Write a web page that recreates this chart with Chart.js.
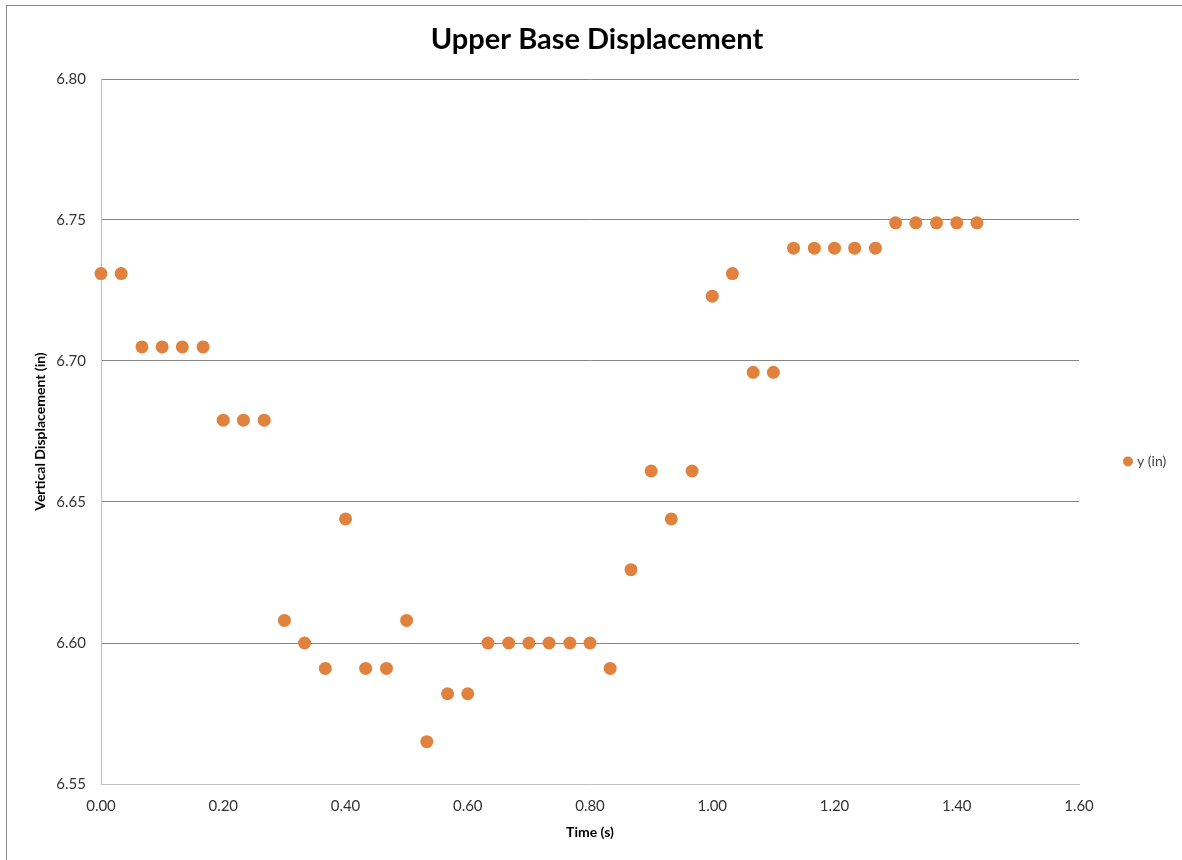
<!DOCTYPE html>
<html>
<head>
<meta charset="utf-8">
<script src="https://cdn.jsdelivr.net/npm/chart.js@4"></script>
<style>
  html, body { margin: 0; padding: 0; background: #fff; overflow: hidden; }
  #wrap { position: relative; width: 1182px; height: 860px; }
  #frame { position: absolute; left: 6px; top: 5px; width: 1200px; height: 900px; border: 1px solid #8a8a8a; box-sizing: border-box; pointer-events: none; }
  canvas { position: absolute; left: 0; top: 0; }
</style>
</head>
<body>
<div id="wrap">
  <div id="frame"></div>
  <canvas id="c" width="1182" height="860"></canvas>
</div>
<script>
const chartTitle = 'Upper Base Displacement';
const xAxisTitle = 'Time (s)';
const yAxisTitle = 'Vertical Displacement (in)';
const seriesName = 'y (in)';

const timeS = [0.000, 0.033, 0.067, 0.100, 0.133, 0.167, 0.200, 0.233, 0.267, 0.300,
               0.333, 0.367, 0.400, 0.433, 0.467, 0.500, 0.533, 0.567, 0.600, 0.633,
               0.667, 0.700, 0.733, 0.767, 0.800, 0.833, 0.867, 0.900, 0.933, 0.967,
               1.000, 1.033, 1.067, 1.100, 1.133, 1.167, 1.200, 1.233, 1.267, 1.300,
               1.333, 1.367, 1.400, 1.433];
const yIn = [6.731, 6.731, 6.705, 6.705, 6.705, 6.705, 6.679, 6.679, 6.679, 6.608,
             6.600, 6.591, 6.644, 6.591, 6.591, 6.608, 6.565, 6.582, 6.582, 6.600,
             6.600, 6.600, 6.600, 6.600, 6.600, 6.591, 6.626, 6.661, 6.644, 6.661,
             6.723, 6.731, 6.696, 6.696, 6.740, 6.740, 6.740, 6.740, 6.740, 6.749,
             6.749, 6.749, 6.749, 6.749];

const xMin = 0, xMax = 1.6, xStep = 0.2;
const yMin = 6.55, yMax = 6.80, yStep = 0.05;

const points = timeS.map((t, i) => ({ x: t, y: yIn[i] }));
const FONT = 'Lato, Calibri, "Open Sans", sans-serif';
const markerColor = '#E0823D';

const legendPlugin = {
  id: 'sideLegend',
  afterDraw(chart) {
    const { ctx, chartArea } = chart;
    const ds = chart.data.datasets[0];
    const cx = chartArea.right + 49;
    const cy = (chartArea.top + chartArea.bottom) / 2 + 30;
    ctx.save();
    ctx.fillStyle = ds.backgroundColor;
    ctx.beginPath();
    ctx.arc(cx, cy, 5, 0, Math.PI * 2);
    ctx.fill();
    ctx.fillStyle = '#404040';
    ctx.font = '14px ' + FONT;
    ctx.textAlign = 'left';
    ctx.textBaseline = 'middle';
    ctx.fillText(ds.label, cx + 9, cy);
    ctx.restore();
  }
};

new Chart(document.getElementById('c'), {
  type: 'scatter',
  data: {
    datasets: [{
      label: seriesName,
      data: points,
      backgroundColor: markerColor,
      borderColor: markerColor,
      borderWidth: 0,
      pointRadius: 6.5,
      pointHoverRadius: 6.5,
      clip: false
    }]
  },
  options: {
    responsive: false,
    animation: false,
    devicePixelRatio: 1,
    layout: { padding: { left: 12, right: 0, top: 0, bottom: 0 } },
    plugins: {
      legend: { display: false },
      tooltip: { enabled: false },
      title: {
        display: true,
        text: chartTitle,
        color: '#000',
        font: { family: FONT, size: 29, weight: 'bold', lineHeight: 1.2 },
        padding: { top: 22.6, bottom: 21.6 }
      }
    },
    scales: {
      x: {
        type: 'linear',
        min: xMin, max: xMax,
        ticks: {
          stepSize: xStep,
          padding: 13,
          color: '#333',
          font: { family: FONT, size: 15 },
          callback: v => Number(v).toFixed(2)
        },
        grid: { display: false, drawTicks: false },
        border: { display: true, color: '#bfbfbf', width: 1 },
        title: {
          display: true,
          text: xAxisTitle,
          color: '#000',
          font: { family: FONT, size: 14, weight: 'bold', lineHeight: 1.2 },
          padding: { top: 0, bottom: 19 }
        },
        afterFit(scale) { scale.height = 76; }
      },
      y: {
        type: 'linear',
        position: 'left',
        min: yMin, max: yMax,
        ticks: {
          stepSize: yStep,
          padding: 15,
          color: '#333',
          font: { family: FONT, size: 15 },
          callback: v => Number(v).toFixed(2)
        },
        grid: {
          drawTicks: false,
          color: c => (c.tick && Math.abs(c.tick.value - yMin) < 1e-6) ? 'rgba(0,0,0,0)' : '#868686',
          lineWidth: 1
        },
        border: { display: true, color: '#bfbfbf', width: 1 },
        title: {
          display: true,
          text: yAxisTitle,
          color: '#000',
          font: { family: FONT, size: 14, weight: 'bold', lineHeight: 1.2 },
          padding: { top: 19.6, bottom: 0 }
        },
        afterFit(scale) { scale.width = 89; }
      },
      legendSpace: {
        type: 'linear',
        position: 'right',
        display: true,
        min: yMin, max: yMax,
        ticks: { display: false },
        grid: { display: false, drawTicks: false },
        border: { display: false },
        afterFit(scale) { scale.width = 103; }
      }
    }
  },
  plugins: [legendPlugin]
});
</script>
</body>
</html>
